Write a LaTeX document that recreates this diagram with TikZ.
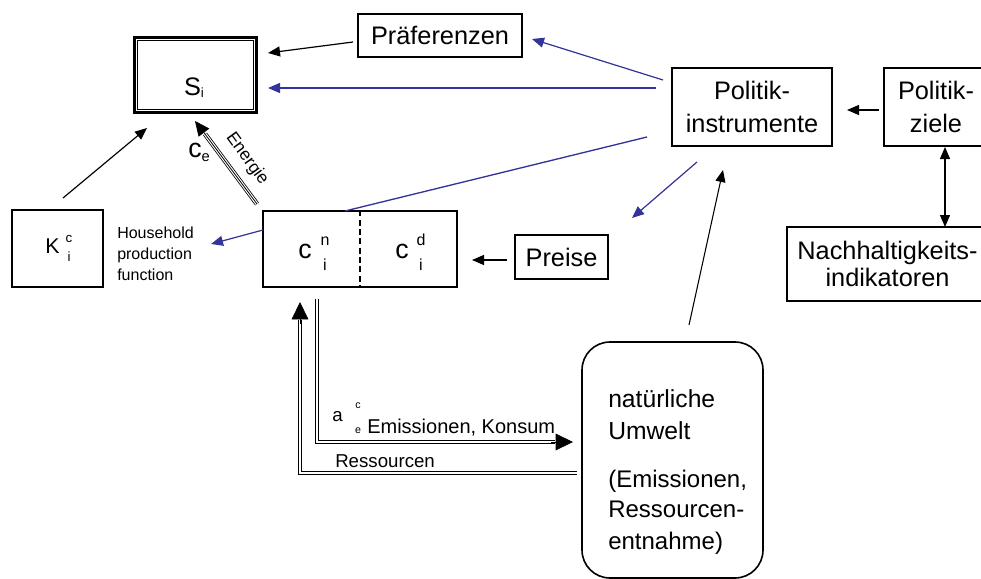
\documentclass[tikz,border=0pt]{standalone}
\usepackage{fontspec}
\setmainfont{Liberation Sans}
\usetikzlibrary{arrows.meta}
\definecolor{polblue}{RGB}{51,51,153}

\begin{document}
\begin{tikzpicture}[x=0.75pt,y=-0.75pt,
  sz/.style 2 args={minimum width=#1*0.75pt, minimum height=#2*0.75pt},
  box/.style={draw, line width=0.9pt, inner sep=0pt, align=center},
  big/.style={font=\fontsize{19}{24.75}\selectfont},
  small/.style={font=\fontsize{12}{12}\selectfont},
  tiny/.style={font=\fontsize{10}{10}\selectfont},
  lbl/.style={inner sep=0pt},
  arr/.style={-{Triangle[length=9pt,width=7.5pt]}, line width=0.9pt},
  barr/.style={arr, draw=polblue, fill=polblue},
  bigtip/.style={-{Triangle[length=13pt,width=12.5pt]}, line width=0.5pt},
  dbl/.style={double, double distance=1.6pt, line width=0.6pt}
]
\useasboundingbox (0,0) rectangle (981,578);

% ---------- boxes ----------
\node[box, sz={122}{75}, line width=2.25pt] (si) at (195.5,75) {};
\draw[line width=0.6pt] ([shift={(3.4pt,-3.4pt)}]si.north west)
  rectangle ([shift={(-3.4pt,3.4pt)}]si.south east);
\node[anchor=base, font=\fontsize{19}{19}\selectfont] (stxt) at (194,95)
  {S\raisebox{-2pt}{\fontsize{10}{10}\selectfont i}};

\node[box, big, sz={164}{43}] (pref) at (440,35.5) {Präferenzen};
\node[box, big, sz={160}{78}] (pinst) at (752,107) {Politik-\\instrumente};

% boxes that run on past the right edge
\draw[line width=0.9pt, line cap=butt] (981,68) -| (884,146) -- (981,146);
\coordinate (pziel) at (936,107);
\node[lbl, big, align=center] (pzieltxt) at (pziel) {Politik-\\ziele};
\draw[line width=0.9pt, line cap=butt] (981,227) -| (787,301) -- (981,301);
\node[lbl, align=center, font=\fontsize{19}{20.25}\selectfont] (nachtxt) at (887.5,264)
  {Nachhaltigkeits-\\indikatoren};
\node[box, big, sz={93}{44}] (preise) at (561.5,257) {Preise};

% household capital
\node[box, sz={91}{77}] (kbox) at (57.5,248.5) {};
\node[lbl, anchor=base west, font=\fontsize{16}{16}\selectfont] (kK) at (45,253) {K};
\node[lbl, anchor=base, tiny] (kc) at (69,242) {c};
\node[lbl, anchor=base, tiny] (ki) at (69,261) {i};

% consumption box with its two parts
\node[box, sz={194}{76}] (cbox) at (360,249) {};
\draw[line width=1.1pt, dash pattern=on 4.5pt off 2.5pt] (cbox.north) -- (cbox.south);
\node[lbl, anchor=base west, font=\fontsize{20}{20}\selectfont] (cn) at (298,258) {c};
\node[lbl, anchor=base, small] (cnn) at (325,245) {n};
\node[lbl, anchor=base, small] (cni) at (325,270) {i};
\node[lbl, anchor=base west, font=\fontsize{20}{20}\selectfont] (cd) at (395,258) {c};
\node[lbl, anchor=base, small] (cdd) at (421,245) {d};
\node[lbl, anchor=base, small] (cdi) at (421,270) {i};

\node[lbl, anchor=north west, align=left, font=\fontsize{12}{15.5}\selectfont] (hpf) at (117,227)
  {Household\\production\\function};

% natural environment
\begin{scope}
\clip (0,0) rectangle (981,578);
\node[draw, line width=1.2pt, rounded corners=21pt, sz={181}{236}] (umw) at (672.5,460) {};
\end{scope}
\node[lbl, anchor=base west, font=\fontsize{18.5}{24}\selectfont] (u1) at (608,407) {natürliche};
\node[lbl, anchor=base west, font=\fontsize{18.5}{24}\selectfont] (u2) at (608,439) {Umwelt};
\node[lbl, anchor=base west, font=\fontsize{18}{24}\selectfont] (u3) at (608,487) {(Emissionen,};
\node[lbl, anchor=base west, font=\fontsize{18}{24}\selectfont] (u4) at (608,517) {Ressourcen-};
\node[lbl, anchor=base west, font=\fontsize{18}{24}\selectfont] (u5) at (608,549) {entnahme)};

% ---------- connector ends ----------
\coordinate (a1s) at (353,42);  \coordinate (a1e) at (268,53);
\coordinate (b1s) at (663,80);  \coordinate (b1e) at (532,39);
\coordinate (b2s) at (656,88);  \coordinate (b2e) at (268,88);
\coordinate (b3s) at (647,137); \coordinate (b3e) at (345,211);
\coordinate (b4s) at (697,162); \coordinate (b4e) at (632,218);
\coordinate (a2s) at (689,325); \coordinate (a2e) at (723,170);
\coordinate (a3s) at (879,110); \coordinate (a3e) at (847,110);
\coordinate (a4s) at (945,147); \coordinate (a4e) at (945,227);
\coordinate (a5s) at (63,198);  \coordinate (a5e) at (147,128);
\coordinate (b5s) at (263,230); \coordinate (b5e) at (211,244);
\coordinate (a6s) at (507,260); \coordinate (a6e) at (472,260);

% ---------- connectors ----------
\draw[arr] (a1s) -- (a1e);
\draw[barr] (b1s) -- (b1e);
\draw[barr] (b2s) -- (b2e);
\draw[polblue, line width=1pt] (b3s) -- (b3e);
\draw[barr] (b4s) -- (b4e);
\draw[arr, line width=0.8pt] (a2s) -- (a2e);
\draw[arr] (a3s) -- (a3e);
\draw[{Triangle[length=9pt,width=7.5pt]}-{Triangle[length=9pt,width=7.5pt]}, line width=1pt] (a4s) -- (a4e);
\draw[arr] (a5s) -- (a5e);
\draw[barr] (b5s) -- (b5e);
\draw[arr] (a6s) -- (a6e);

% energy flow (triple line)
\coordinate (es) at (257,204);
\coordinate (em) at (205,134);
\coordinate (et) at (195,121);
\draw[double, double distance=2.3pt, line width=0.6pt] (es) -- (em);
\draw[line width=0.6pt] (es) -- (em);
\draw[-{Triangle[length=11pt,width=10pt]}, line width=0.5pt] (em) -- (et);
\node[lbl, rotate=-54, font=\fontsize{13}{13}\selectfont] (energie) at (247,159) {Energie};
\node[lbl, anchor=base west, font=\fontsize{20}{20}\selectfont] (ce) at (188,157)
  {c\raisebox{-3pt}{\fontsize{11}{11}\selectfont e}};

% emissions to the environment
\coordinate (e1) at (317,299);
\coordinate (e2) at (555,442);
\coordinate (e3) at (573,442);
\draw[dbl] (e1) |- (e2);
\draw[bigtip] ([xshift=-3pt]e2) -- (e3);
\node[lbl, anchor=base west, font=\fontsize{14}{14}\selectfont] (ae) at (332,421) {a};
\node[lbl, anchor=base, font=\fontsize{8}{8}\selectfont] (aec) at (358,408) {c};
\node[lbl, anchor=base, font=\fontsize{8}{8}\selectfont] (aee) at (358,433) {e};
\node[lbl, anchor=base west, font=\fontsize{15}{15}\selectfont] (emk) at (367,433) {Emissionen, Konsum};

% resources from the environment
\coordinate (r1) at (577,473);
\coordinate (r2) at (300,320);
\coordinate (r3) at (300,302);
\draw[dbl] (r1) -| (r2);
\draw[bigtip] ([yshift=-3pt]r2) -- (r3);
\node[lbl, anchor=base west, font=\fontsize{14}{14}\selectfont] (res) at (335,467) {Ressourcen};

\end{tikzpicture}
\end{document}
